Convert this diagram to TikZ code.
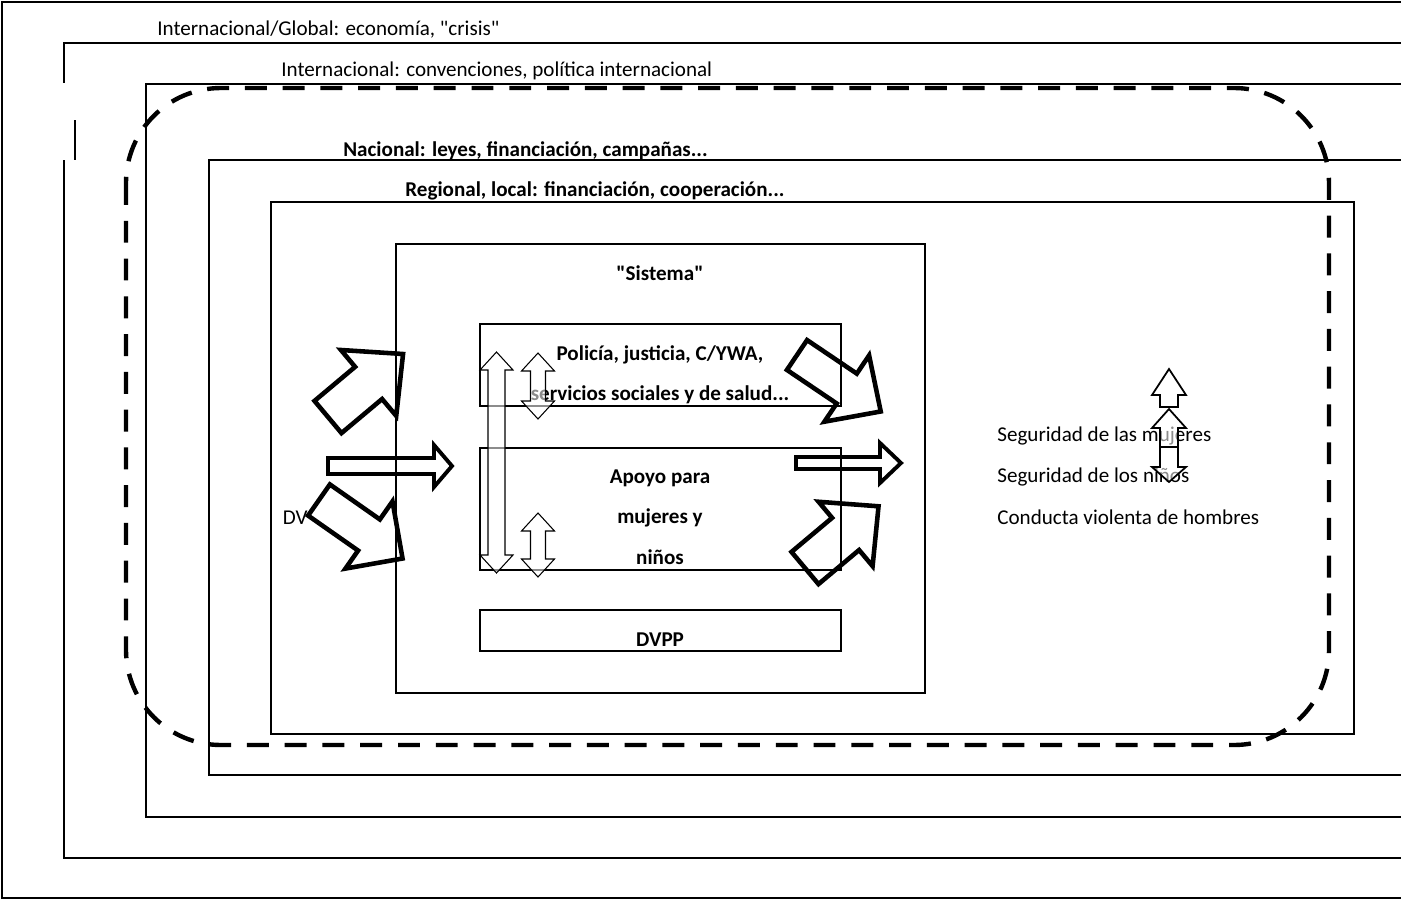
\documentclass[tikz,border=0pt]{standalone}
\usepackage{fontspec}
\setmainfont{Carlito}
\tikzstyle{box} = [draw, line width=1.1pt]
\tikzstyle{level} = [anchor=west, inner sep=0pt, font=\fontsize{12}{14}\selectfont]
\tikzstyle{levelbold} = [anchor=west, inner sep=0pt, font=\fontsize{12}{14}\selectfont\bfseries]
\tikzstyle{inner} = [align=center, inner sep=0pt, font=\fontsize{12}{23}\selectfont\bfseries]
\tikzstyle{bigarrow} = [draw, line width=2.6pt]
\tikzstyle{midarrow} = [draw, line width=2.2pt]
\tikzstyle{thinarrow} = [draw, line width=0.6pt, fill=white, fill opacity=0.55]
\tikzstyle{scopeline} = [line width=2.5pt, dash pattern=on 12.5pt off 9pt, rounded corners=1.9cm]

% block arrow: [style]{x}{y}{angle}{length}{half shaft}{half head}{head length}
\newcommand{\blockarrow}[8][bigarrow]{%
  \begin{scope}[shift={(#2,#3)}, rotate=#4]
    \draw[#1] (0,-#6) -- (#5-#8,-#6) -- (#5-#8,-#7) -- (#5,0) -- (#5-#8,#7)
      -- (#5-#8,#6) -- (0,#6) -- cycle;
  \end{scope}}
% double arrow: {x}{top}{bottom}{half shaft}{half head}{head length}
\newcommand{\dblarrow}[6]{%
  \draw[thinarrow] (#1,#2) -- (#1+#5,#2+#6) -- (#1+#4,#2+#6) -- (#1+#4,#3-#6)
    -- (#1+#5,#3-#6) -- (#1,#3) -- (#1-#5,#3-#6) -- (#1-#4,#3-#6)
    -- (#1-#4,#2+#6) -- (#1-#5,#2+#6) -- cycle;}

\begin{document}
\begin{tikzpicture}[x=0.02cm, y=-0.02cm]
        \useasboundingbox (0,0) rectangle (1401,900);
        % levels
        \draw[box] (1405,2) -- (2,2) -- (2,898) -- (1405,898);
        \draw[box] (1405,43) -- (64,43) -- (64,83);
        \draw[box] (75,120) -- (75,160);
        \draw[box] (64,160) -- (64,858) -- (1405,858);
        \draw[box] (1405,84) -- (146,84) -- (146,817) -- (1405,817);
        \draw[box] (1405,160) -- (209,160) -- (209,775) -- (1405,775);
        \draw[box] (271,202) rectangle (1354,734);
        \node[level] (global) at (157,30) {Internacional/Global: economía, \textquotedbl crisis\textquotedbl};
        \node[level] (inter) at (281,71) {Internacional: convenciones, política internacional};
        \node[levelbold] (nacional) at (343,151) {Nacional: leyes, financiación, campañas...};
        \node[levelbold] (regional) at (405,191) {Regional, local: financiación, cooperación...};

        % system
        \draw[box] (396,244) rectangle (925,693);
        \draw[box] (480,324) rectangle (841,406);
        \draw[box] (480,448) rectangle (841,570);
        \draw[box] (480,610) rectangle (841,651);
        \node[inner] (sistema) at (660,273) {\textquotedbl Sistema\textquotedbl};
        \node[inner] (policia) at (660,375) {Policía, justicia, C/YWA,\\servicios sociales y de salud...};
        \node[inner] (apoyo) at (660,517) {Apoyo para\\mujeres y\\niños};
        \node[inner] (dvpp) at (660,640) {DVPP};

        \node[level, anchor=east] (dv) at (308,518) {DV};
        \node[level] (mujeres) at (997,436) {Seguridad de las mujeres};
        \node[level] (ninos) at (997,477) {Seguridad de los niños};
        \node[level] (hombres) at (997,517) {Conducta violenta de hombres};

        % dashed frame
        \draw[scopeline] (126,88) rectangle (1329,745);

        % big arrows
        \blockarrow{328}{417}{40}{98}{21}{43}{45}
        \blockarrow{319}{500}{-35}{102}{19}{41}{41}
        \blockarrow[midarrow]{328}{466}{0}{124}{8}{21}{18}
        \blockarrow{797}{355}{-34}{101}{18}{40}{41}
        \blockarrow{805}{568}{40}{96}{21}{42}{43}
        \blockarrow[midarrow]{796}{463}{0}{105}{6}{20}{21}

        % double arrows
        \dblarrow{496.5}{352}{573}{8.5}{16.5}{18}
        \dblarrow{538}{353}{419}{7.5}{16.5}{18}
        \dblarrow{538}{513}{577}{7.5}{16.5}{18}
        \blockarrow[thinarrow, line width=1pt]{1169}{407}{90}{38}{9}{17}{26}
        \blockarrow[thinarrow, line width=1pt]{1169}{447}{90}{38}{9}{17}{19}
        \blockarrow[thinarrow, line width=1pt]{1169}{447}{-90}{35}{9}{17}{15}
\end{tikzpicture}
\end{document}
